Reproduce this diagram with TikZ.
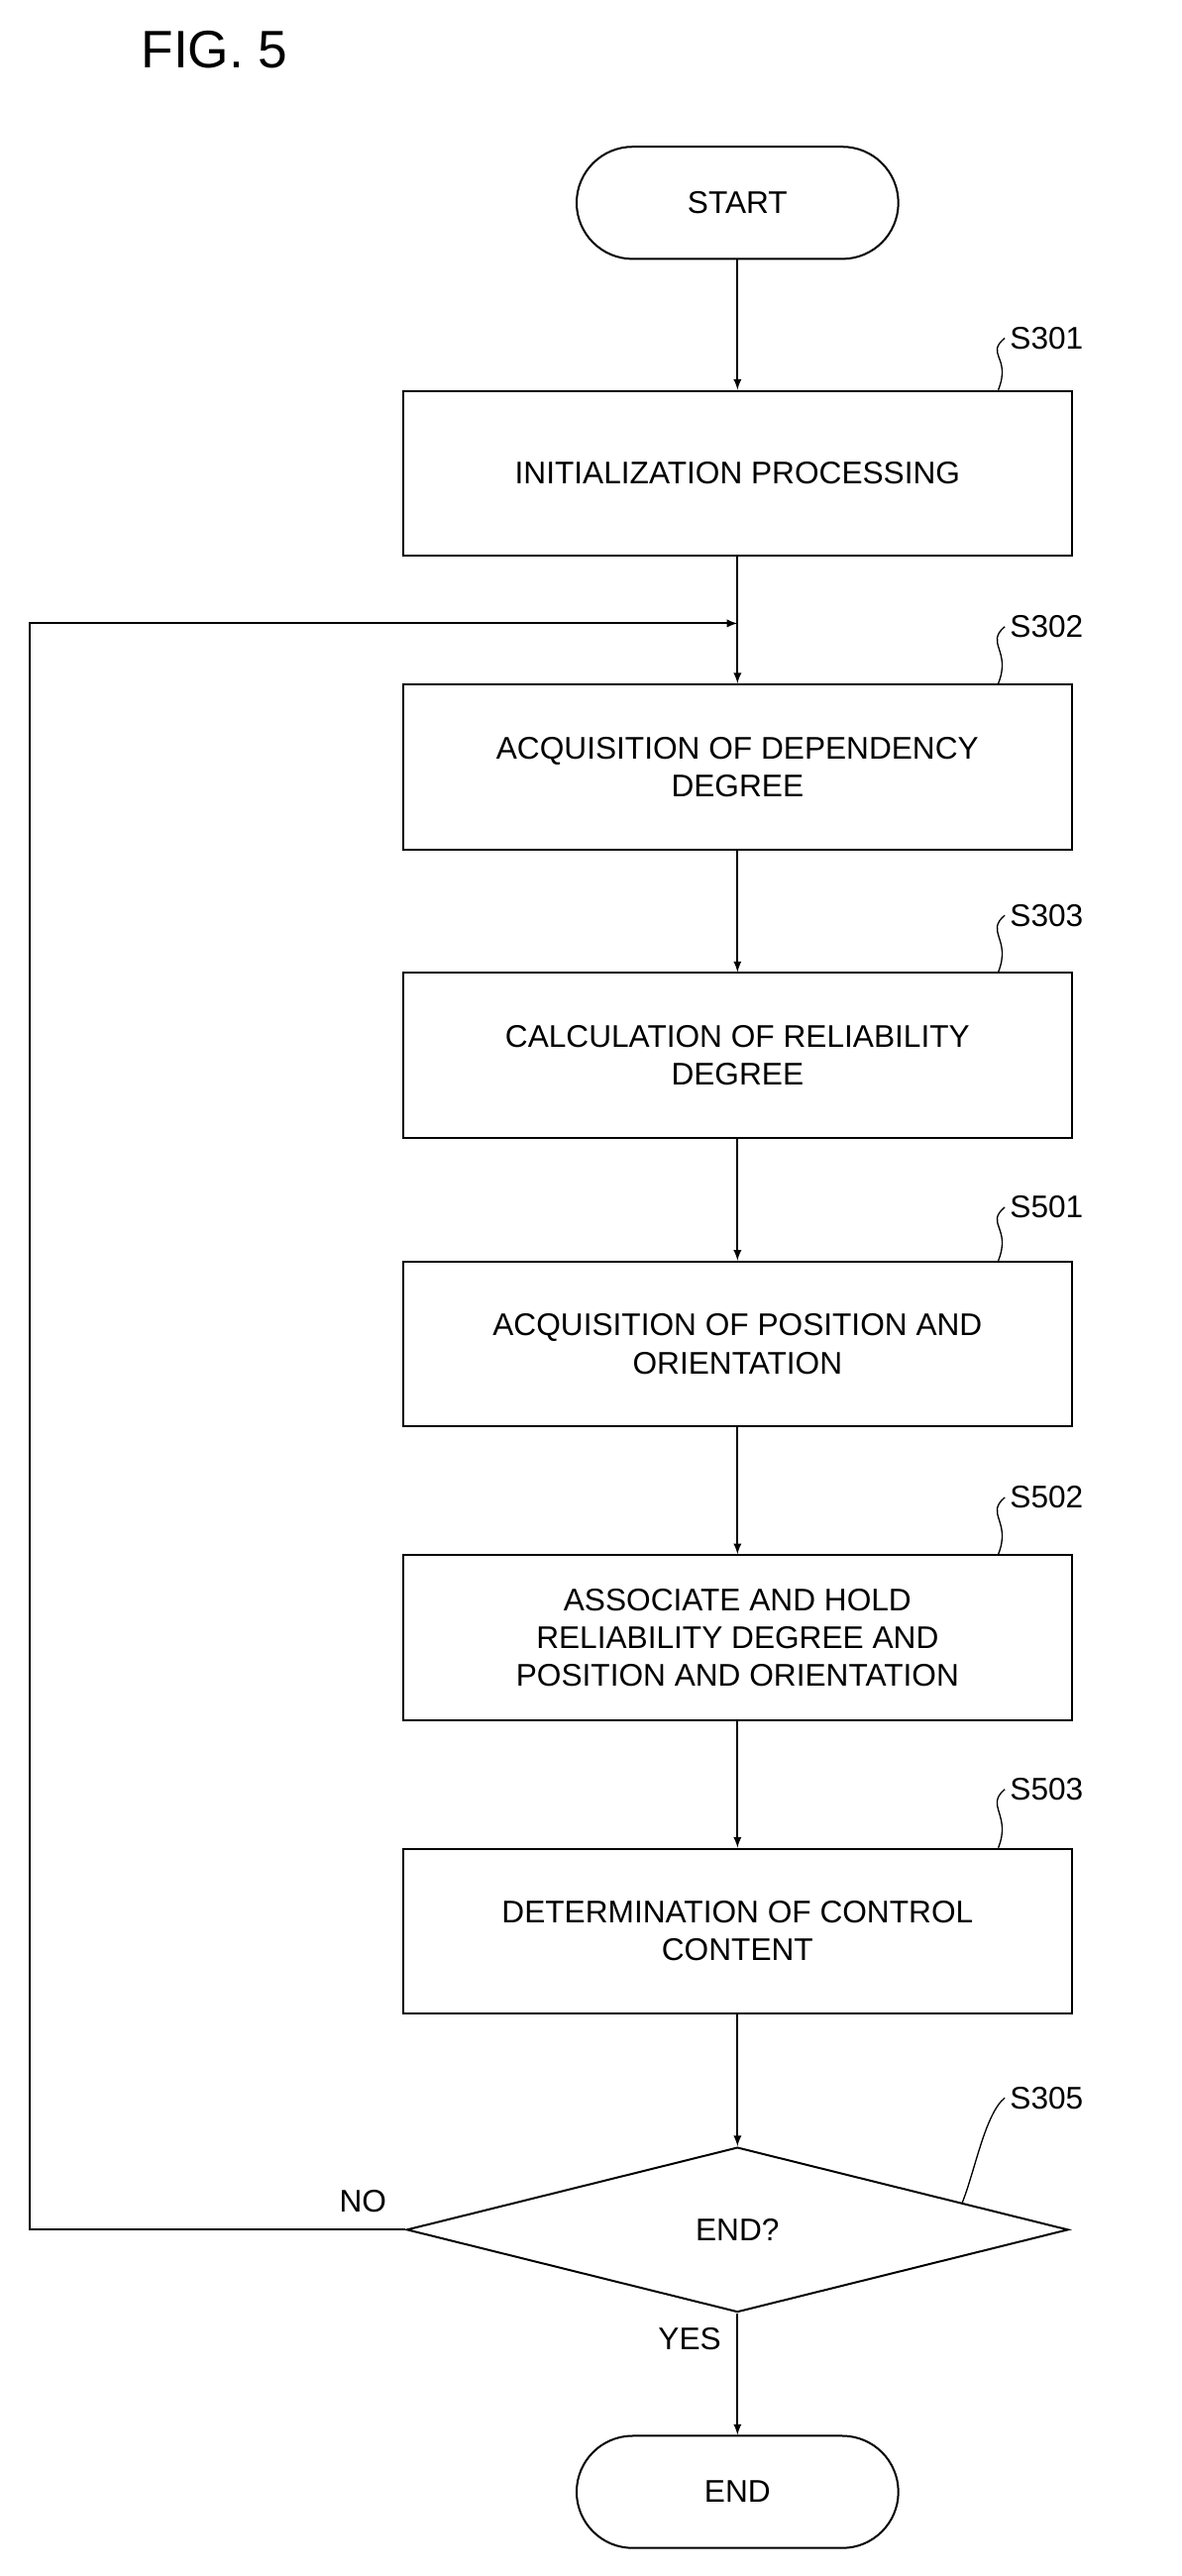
\documentclass[tikz,border=0pt]{standalone}
\usepackage{fontspec}
\setmainfont{Liberation Sans}
\usetikzlibrary{shapes.geometric}
\begin{document}
\begin{tikzpicture}
[x=1pt, y=-1pt, every node/.style={inner sep=0pt, font=\fontsize{19}{23}\selectfont, align=center},
 proc/.style={rectangle, minimum width=405pt, minimum height=100pt, draw=black, line width=1.2pt},
 term/.style={rectangle, rounded corners=34pt, minimum width=195pt, minimum height=68pt, draw=black, line width=1.2pt},
 tag/.style={anchor=west},
 flow/.style={line width=1.2pt, -latex},
 wave/.style={line width=0.8pt}]
\useasboundingbox (0,0) rectangle (716,1562);
\node (fig) [font=\fontsize{32}{36}\selectfont] at (130, 30) {FIG. 5};
\node (start) [term] at (447, 123) {START};
\node (s301) [proc] at (447, 287) {INITIALIZATION PROCESSING};
\node (s302) [proc] at (447, 465) {ACQUISITION OF DEPENDENCY\\DEGREE};
\node (s303) [proc] at (447, 640) {CALCULATION OF RELIABILITY\\DEGREE};
\node (s501) [proc] at (447, 815) {ACQUISITION OF POSITION AND\\ORIENTATION};
\node (s502) [proc] at (447, 993) {ASSOCIATE AND HOLD\\RELIABILITY DEGREE AND\\POSITION AND ORIENTATION};
\node (s503) [proc] at (447, 1171) {DETERMINATION OF CONTROL\\CONTENT};
\node (s305) [diamond, aspect=4, minimum width=401pt, minimum height=100pt, draw=black, line width=1.2pt] at (447, 1352) {END?};
\node (end) [term] at (447, 1511) {END};
% step labels
\node (t301) [tag] at (612, 205) {S301};
\node (t302) [tag] at (612, 380) {S302};
\node (t303) [tag] at (612, 555) {S303};
\node (t501) [tag] at (612, 732) {S501};
\node (t502) [tag] at (612, 908) {S502};
\node (t503) [tag] at (612, 1085) {S503};
\node (t305) [tag] at (612, 1272) {S305};
\node (no) at (220, 1335) {NO};
\node (yes) at (418, 1418) {YES};
\foreach \s/\t in {s301/t301, s302/t302, s303/t303, s501/t501, s502/t502, s503/t503}
  \draw [wave] ([xshift=-45pt]\s.north east) .. controls +(8,-20) and +(-12,10) .. ([xshift=-3pt]\t.west);
\draw [wave] ([xshift=-65pt, yshift=16pt]s305.east) .. controls +(8,-20) and +(-12,10) .. ([xshift=-3pt]t305.west);
% flow
\coordinate (loopin) at (447, 378);
\coordinate (c1) at (18, 1352);
\coordinate (c2) at (18, 378);
\draw [flow] (start) -- (s301);
\draw [line width=1.2pt] (s301) -- (loopin);
\draw [flow] (loopin) -- (s302);
\draw [flow] (s302) -- (s303);
\draw [flow] (s303) -- (s501);
\draw [flow] (s501) -- (s502);
\draw [flow] (s502) -- (s503);
\draw [flow] (s503) -- (s305);
\draw [flow] (s305) -- (end);
\draw [flow] (s305.west) -- (c1) -- (c2) -- (loopin);
\end{tikzpicture}
\end{document}
